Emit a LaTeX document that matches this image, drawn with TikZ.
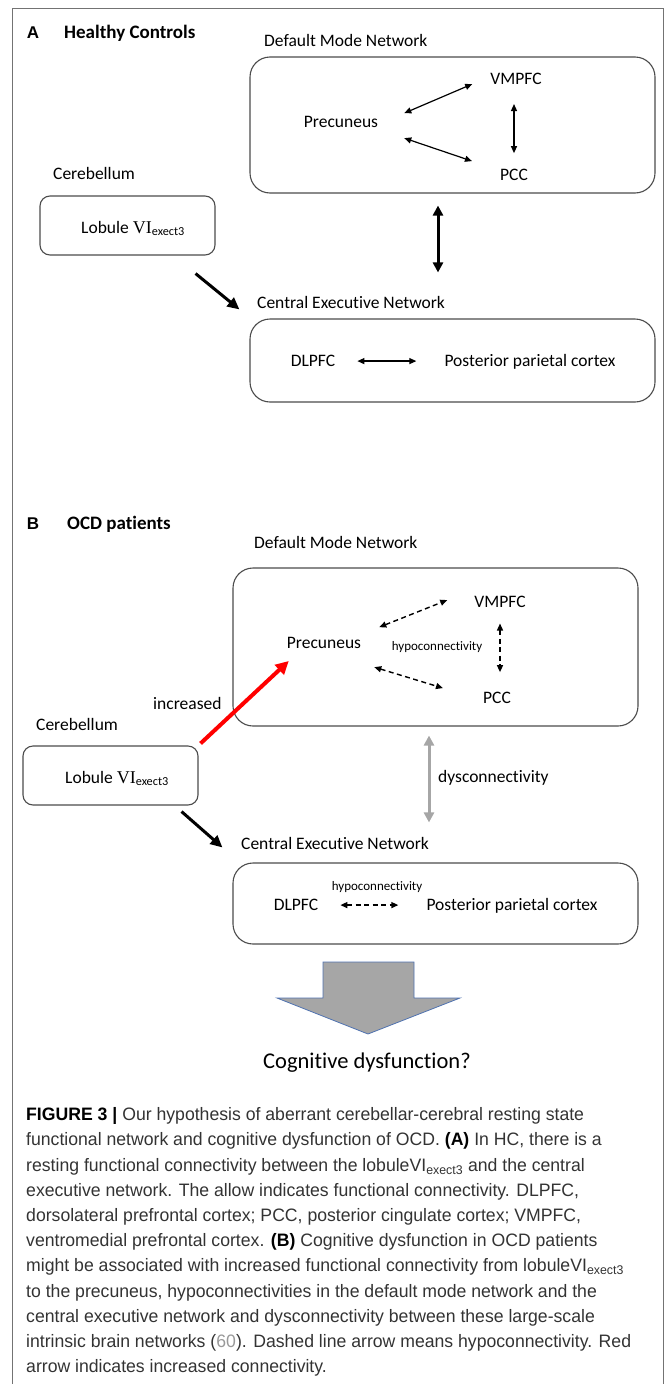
\documentclass[tikz,border=0pt]{standalone}
\usepackage{fontspec}
\setmainfont{Carlito}[Ligatures=NoCommon]
\newfontfamily\capfont[FakeStretch=0.98]{Liberation Sans}
\newfontfamily\letterfont{Liberation Sans}
\newfontfamily\numfont{Liberation Serif}
\usetikzlibrary{arrows.meta}
\definecolor{arrowgray}{RGB}{166,166,166}
\definecolor{outlineblue}{RGB}{79,114,176}
\newcommand\lobtext{Lobule {\numfont\fontsize{18}{20}\selectfont VI}\textsubscript{exect3}}

\begin{document}
\begin{tikzpicture}[x=1pt,y=-1pt,font=\fontsize{17.5}{20}\selectfont,
  lbl/.style={inner sep=0pt,anchor=base},
  lblw/.style={inner sep=0pt,anchor=base west},
  smalllbl/.style={inner sep=0pt,anchor=base,font=\fontsize{13}{15}\selectfont},
  ttl/.style={inner sep=0pt,anchor=base west,font=\bfseries\fontsize{19}{22}\selectfont},
  panel/.style={inner sep=0pt,anchor=base,font=\letterfont\bfseries\fontsize{17}{20}\selectfont},
  netbox/.style={draw=black!70,line width=1.1pt,rounded corners=20pt,minimum width=405pt},
  lobbox/.style={draw=black!70,line width=1.1pt,rounded corners=10pt,minimum width=175pt,minimum height=59pt},
  conn/.style={line width=1.2pt,{Triangle[length=7pt,width=6pt]}-{Triangle[length=7pt,width=6pt]}},
  hypolink/.style={conn,line width=1.4pt,dash pattern=on 5pt off 3.5pt},
  dblthick/.style={line width=3pt,{Triangle[length=10pt,width=10pt]}-{Triangle[length=10pt,width=10pt]}},
  graydbl/.style={dblthick,draw=arrowgray},
  flowarrow/.style={line width=3pt,-{Triangle[length=12pt,width=11pt]}},
  redarrow/.style={line width=4pt,draw=red,-{Triangle[length=13pt,width=13pt]}},
  captext/.style={inner sep=0pt,anchor=north west,align=left,text=black!80,
    font=\capfont\fontsize{18}{25.2}\selectfont}]
  \useasboundingbox (0,0) rectangle (667,1384);
  \draw[line width=1pt,black!55] (12,1384) -- (12,8) -- (663,8) -- (663,1384);

  \node[panel] (lettA) at (33,38) {A};
  \node[ttl] (titleA) at (64,38) {Healthy Controls};
  \node[lblw] (dmnlblA) at (264,46.7) {Default Mode Network};
  \node[netbox,minimum height=136pt] (dmnA) at (452.5,125) {};
  \node[lbl] (vmpfcA) at (516,84.7) {VMPFC};
  \node[lbl] (precA) at (341,127.7) {Precuneus};
  \node[lbl] (pccA) at (514,180.7) {PCC};
  \node[lblw] (cereA) at (53,179.7) {Cerebellum};
  \node[lobbox] (lobA) at (127.5,225.5) {};
  \node[lblw] (lobtxtA) at (81,233) {\lobtext};
  \node[lblw] (cenlblA) at (257,308.7) {Central Executive Network};
  \node[netbox,minimum height=83pt] (cenA) at (452.5,360.5) {};
  \node[lbl] (dlpfcA) at (313,366.7) {DLPFC};
  \node[lbl] (pppA) at (530,366.7) {Posterior parietal cortex};

  \draw[conn] ([xshift=26pt,yshift=9pt]precA.east) -- ([xshift=-18pt,yshift=-5pt]vmpfcA.west);
  \draw[conn] ([xshift=26pt,yshift=-16pt]precA.east) -- ([xshift=-28pt,yshift=14pt]pccA.west);
  \draw[conn,shorten <=19pt,shorten >=16pt] (vmpfcA.south -| pccA.north) -- (pccA.north);
  \draw[dblthick,shorten <=12pt,shorten >=46pt] ([xshift=-14.5pt]dmnA.south) -- ([xshift=-14.5pt]cenA.north);
  \draw[flowarrow] ([xshift=-20pt,yshift=-18pt]lobA.south east) -- ([xshift=-10pt,yshift=9pt]cenA.north west);
  \draw[conn,shorten <=22pt,shorten >=28pt] (dlpfcA.east) -- (dlpfcA.east -| pppA.west);

  \node[panel] (lettB) at (33,529) {B};
  \node[ttl] (titleB) at (67,529) {OCD patients};
  \node[lblw] (dmnlblB) at (254,548.7) {Default Mode Network};
  \node[netbox,minimum height=158pt] (dmnB) at (435.5,647) {};
  \node[lbl] (vmpfcB) at (500,607.7) {VMPFC};
  \node[lbl] (precB) at (324,648.7) {Precuneus};
  \node[smalllbl] (hypoB) at (437,650.2) {hypoconnectivity};
  \node[lbl] (pccB) at (497,703.7) {PCC};
  \node[lblw] (incr) at (153,709.7) {increased};
  \node[lblw] (cereB) at (36,730.7) {Cerebellum};
  \node[lobbox] (lobB) at (110.5,775.5) {};
  \node[lblw] (lobtxtB) at (65,783) {\lobtext};
  \node[lblw] (dysc) at (438,782.7) {dysconnectivity};
  \node[lblw] (cenlblB) at (241,849.7) {Central Executive Network};
  \node[netbox,minimum height=81pt] (cenB) at (435.5,903.5) {};
  \node[smalllbl] (hypoC) at (377,890.5) {hypoconnectivity};
  \node[lbl] (dlpfcB) at (296,910.7) {DLPFC};
  \node[lbl] (pppB) at (512,910.7) {Posterior parietal cortex};

  \draw[hypolink] ([xshift=18pt,yshift=16pt]precB.east) -- ([xshift=-27pt,yshift=2pt]vmpfcB.west);
  \draw[hypolink] ([xshift=13pt,yshift=-24pt]precB.east) -- ([xshift=-40pt,yshift=10pt]pccB.west);
  \draw[hypolink,shorten <=15.5pt,shorten >=20pt] (vmpfcB.south) -- (vmpfcB.south |- pccB.north);
  \draw[redarrow] ([xshift=2pt,yshift=2pt]lobB.north east) -- ([xshift=2pt,yshift=-12pt]precB.south west);
  \draw[graydbl,shorten <=9pt,shorten >=40pt] ([xshift=-6.5pt]dmnB.south) -- ([xshift=-6.5pt]cenB.north);
  \draw[flowarrow] ([xshift=-17pt,yshift=-6pt]lobB.south east) -- ([xshift=-10pt,yshift=15pt]cenB.north west);
  \draw[hypolink,shorten <=22pt,shorten >=28pt] (dlpfcB.east) -- (dlpfcB.east -| pppB.west);

  \filldraw[fill=arrowgray,draw=outlineblue,line width=0.8pt] (323,962) -- (414,962) -- (414,998)
    -- (460,998) -- (368,1034) -- (277,998) -- (323,998) -- cycle;
  \node[lbl,font=\fontsize{22.5}{26}\selectfont] (cogn) at (367,1068) {Cognitive dysfunction?};

  \node[captext] (cap) at (26,1107.5) {\textcolor{black}{\textbf{FIGURE 3 |}} Our hypothesis of aberrant cerebellar-cerebral resting state\\
    functional network and cognitive dysfunction of OCD. \textcolor{black}{\textbf{(A)}} In HC, there is a\\
    resting functional connectivity between the lobuleVI\textsubscript{exect3} and the central\\
    executive network. The allow indicates functional connectivity. DLPFC,\\
    dorsolateral prefrontal cortex; PCC, posterior cingulate cortex; VMPFC,\\
    ventromedial prefrontal cortex. \textcolor{black}{\textbf{(B)}} Cognitive dysfunction in OCD patients\\
    might be associated with increased functional connectivity from lobuleVI\textsubscript{exect3}\\
    to the precuneus, hypoconnectivities in the default mode network and the\\
    central executive network and dysconnectivity between these large-scale\\
    intrinsic brain networks (\textcolor{black!40}{60}). Dashed line arrow means hypoconnectivity. Red\\
    arrow indicates increased connectivity.};
\end{tikzpicture}
\end{document}
